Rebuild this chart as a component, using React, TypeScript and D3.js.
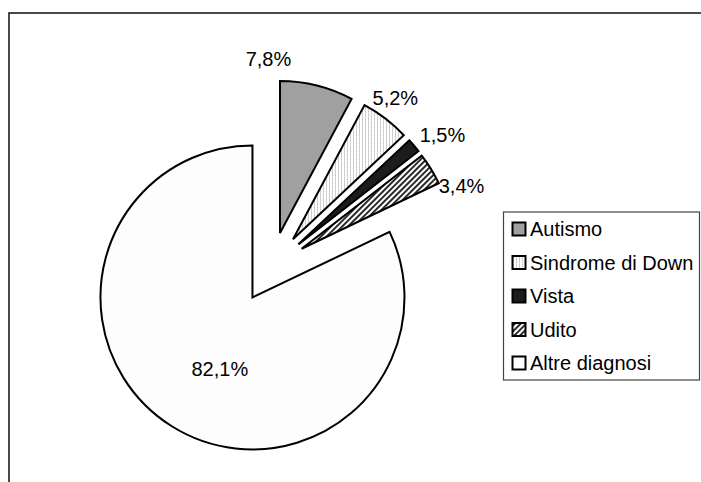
import React from "react";
import * as d3 from "d3";

// Diagnosis categories and their shares (%)
const categories = ["Autismo", "Sindrome di Down", "Vista", "Udito", "Altre diagnosi"];
const values = [7.8, 5.2, 1.5, 3.4, 82.1];
const fillKeys = ["autismo", "down", "vista", "udito", "altre"];

const W = 701;
const H = 482;
const FONT = "'Liberation Sans', Arial, Helvetica, sans-serif";

// Layout
const center = { x: 271.4, y: 267.4 };
const radius = 152;
const explode = 35.5;
const outerLabelDist = 175;
const innerLabelDist = 80;
// small label nudges so the texts sit clear of the slices
const labelNudge: [number, number][] = [
  [-54, -4],
  [-4, -2],
  [11, 4],
  [11, 29],
  [10, 4],
];

const fmt = (v: number) => v.toFixed(1).replace(".", ",") + "%";

export default function App() {
  const pie = d3
    .pie<number>()
    .sort(null)
    .value((d) => d)
    .startAngle(0)
    .endAngle(2 * Math.PI);
  const arcs = pie(values);
  const arcGen = d3.arc<d3.PieArcDatum<number>>().innerRadius(0).outerRadius(radius);

  const fillFor = (k: string) => {
    switch (k) {
      case "autismo":
        return "#a0a0a0";
      case "down":
        return "url(#patDown)";
      case "vista":
        return "#1c1c1c";
      case "udito":
        return "url(#patUdito)";
      default:
        return "#fdfdfd";
    }
  };

  const legendX = 503.5;
  const legendY = 212;
  const legendW = 196;
  const legendH = 168;
  const rowH = 33.5;

  return (
    <svg
      width={W}
      height={H}
      style={{ position: "absolute", left: 0, top: 0, background: "#fff" }}
      fontFamily={FONT}
    >
      <defs>
        <pattern id="patDown" width={3} height={2} patternUnits="userSpaceOnUse">
          <rect width={3} height={2} fill="#ffffff" />
          <rect x={0} y={0} width={1} height={1} fill="#bdbdbd" />
          <rect x={0} y={1} width={1} height={1} fill="#dedede" />
        </pattern>
        <pattern
          id="patUdito"
          width={4}
          height={4}
          patternUnits="userSpaceOnUse"
          patternTransform="rotate(45)"
        >
          <rect width={4} height={4} fill="#ffffff" />
          <rect x={0} y={0} width={2} height={4} fill="#2a2a2a" />
        </pattern>
      </defs>

      {/* chart area border */}
      <rect x={9} y={13} width={900} height={700} fill="none" stroke="#1e1e1e" strokeWidth={1.6} />

      {/* exploded slices */}
      {arcs.map((a, i) => {
        const mid = (a.startAngle + a.endAngle) / 2;
        const ox = center.x + explode * Math.sin(mid);
        const oy = center.y - explode * Math.cos(mid);
        return (
          <path
            key={categories[i]}
            d={arcGen(a) || ""}
            transform={`translate(${ox},${oy})`}
            fill={fillFor(fillKeys[i])}
            stroke="#000"
            strokeWidth={2}
            strokeLinejoin="miter"
          />
        );
      })}

      {/* value labels */}
      {arcs.map((a, i) => {
        const mid = (a.startAngle + a.endAngle) / 2;
        const ox = center.x + explode * Math.sin(mid);
        const oy = center.y - explode * Math.cos(mid);
        const dist = values[i] > 50 ? innerLabelDist : outerLabelDist;
        const lx = ox + dist * Math.sin(mid) + labelNudge[i][0];
        const ly = oy - dist * Math.cos(mid) + labelNudge[i][1];
        return (
          <text
            key={"l" + i}
            x={lx}
            y={ly}
            dy="0.35em"
            textAnchor="middle"
            fontSize={20}
            fill="#000"
          >
            {fmt(values[i])}
          </text>
        );
      })}

      {/* legend */}
      <rect
        x={legendX}
        y={legendY}
        width={legendW}
        height={legendH}
        fill="#fff"
        stroke="#444"
        strokeWidth={1.2}
      />
      {categories.map((c, i) => {
        const cy = legendY + 17 + i * rowH;
        return (
          <g key={"lg" + c}>
            <rect
              x={512.5}
              y={cy - 6.5}
              width={13}
              height={13}
              fill={fillFor(fillKeys[i])}
              stroke="#000"
              strokeWidth={2}
            />
            <text x={530} y={cy} dy="0.35em" fontSize={20} fill="#000">
              {c}
            </text>
          </g>
        );
      })}
    </svg>
  );
}
